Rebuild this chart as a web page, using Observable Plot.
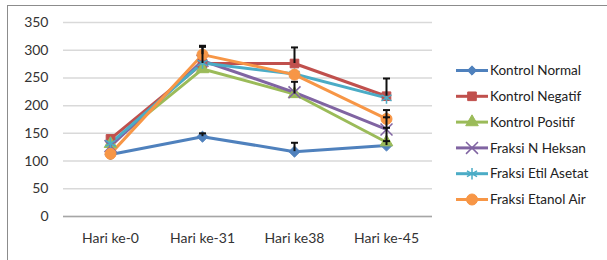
<!DOCTYPE html>
<html><head><meta charset="utf-8">
<script src="https://cdn.jsdelivr.net/npm/d3@7"></script>
<script src="https://cdn.jsdelivr.net/npm/@observablehq/plot@0.6"></script>
<style>
body{margin:0;background:#fff;}
#wrap{position:relative;width:607px;height:260px;overflow:hidden;font-family:Lato,"Open Sans",sans-serif;}
#frame{position:absolute;left:7px;top:5px;width:700px;height:400px;border-left:1.5px solid #8c8c8c;border-top:1.5px solid #8c8c8c;}
#chart{position:absolute;left:0;top:0;}
#legend{position:absolute;left:0;top:0;}
</style></head>
<body><div id="wrap"><div id="frame"></div><div id="chart"></div><svg id="legend" width="607" height="260"></svg></div>
<script>
const categories = ["Hari ke-0", "Hari ke-31", "Hari ke38", "Hari ke-45"];
const yTicks = [0, 50, 100, 150, 200, 250, 300, 350];
const seriesNames = ["Kontrol Normal", "Kontrol Negatif", "Kontrol Positif", "Fraksi N Heksan", "Fraksi Etil Asetat", "Fraksi Etanol Air"];
const colors = ["#4F81BD", "#C0504D", "#9BBB59", "#8064A2", "#4BACC6", "#F79646"];
const symbols = ["diamond2", "square2", "triangle2", "times", "asterisk", "circle"];
const kontrolNormal = [112, 144, 117, 128];
const kontrolNegatif = [140, 276, 276, 217];
const kontrolPositif = [131, 266, 221, 134];
const fraksiNHeksan = [127, 281, 224, 157];
const fraksiEtilAsetat = [132, 277, 257, 214];
const fraksiEtanolAir = [113, 292, 256, 176];
const errNormal = [0, 6, 16, 8];
const errNegatif = [0, 30, 29, 32];
const errPositif = [0, 0, 22, 26];
const errNHeksan = [0, 0, 0, 22];
const errEtilAsetat = [0, 0, 0, 0];
const errEtanolAir = [0, 16, 0, 16];

const values = [kontrolNormal, kontrolNegatif, kontrolPositif, fraksiNHeksan, fraksiEtilAsetat, fraksiEtanolAir];
const errs = [errNormal, errNegatif, errPositif, errNHeksan, errEtilAsetat, errEtanolAir];
const data = [];
seriesNames.forEach((s, i) => categories.forEach((c, j) => data.push({series: s, cat: c, v: values[i][j], e: errs[i][j], idx: i})));
const errData = data.filter(d => d.e > 0);

const sizeOf = {diamond2: 5, square2: 5.5, triangle2: 6, times: 5.5, asterisk: 5.5, circle: 5.5};
const capSymbol = {draw(ctx, size) { const w = 3.5; ctx.moveTo(-w, 0); ctx.lineTo(w, 0); }};

const marks = [
  Plot.gridY(yTicks, {stroke: "#d9d9d9", strokeOpacity: 1, strokeWidth: 1.5}),
  Plot.axisY(yTicks, {tickSize: 0, tickPadding: 15, fontSize: 14, fill: "#333", line: true, stroke: "#a6a6a6", strokeWidth: 1.5}),
  Plot.axisX({tickSize: 0, tickPadding: 17, fontSize: 14, fill: "#333"}),
  Plot.ruleY([0], {stroke: "#a6a6a6", strokeWidth: 1.5}),
];
seriesNames.forEach((s, i) => {
  const d = data.filter(r => r.series === s);
  marks.push(Plot.line(d, {x: "cat", y: "v", stroke: colors[i], strokeWidth: 3}));
});
seriesNames.forEach((s, i) => {
  const d = data.filter(r => r.series === s);
  const sym = symbols[i];
  const stroked = sym === "times" || sym === "asterisk";
  marks.push(Plot.dot(d, {x: "cat", y: "v", symbol: sym, r: sizeOf[sym],
    fill: stroked ? "none" : colors[i], stroke: colors[i], strokeWidth: stroked ? 1.5 : 1}));
});
marks.push(Plot.ruleX(errData, {x: "cat", y1: "v", y2: d => d.v + d.e, stroke: "#111", strokeWidth: 2}));
marks.push(Plot.dot(errData, {x: "cat", y: d => d.v + d.e, symbol: capSymbol, r: 3, stroke: "#111", strokeWidth: 2}));

const chart = Plot.plot({
  width: 607, height: 260,
  marginLeft: 63, marginRight: 175, marginTop: 22, marginBottom: 44,
  style: {background: "transparent", fontFamily: "Lato, 'Open Sans', sans-serif"},
  x: {type: "point", domain: categories, padding: 0.5, label: null},
  y: {domain: [0, 350], label: null},
  marks
});
document.getElementById("chart").appendChild(chart);

// legend
const lg = d3.select("#legend");
const symScale = {diamond2: d3.symbolDiamond2, square2: d3.symbolSquare2, triangle2: d3.symbolTriangle2, times: d3.symbolTimes, asterisk: d3.symbolAsterisk, circle: d3.symbolCircle};
seriesNames.forEach((s, i) => {
  const y = 70.5 + i * 25.8;
  const g = lg.append("g");
  g.append("line").attr("x1", 456).attr("x2", 488).attr("y1", y).attr("y2", y).attr("stroke", colors[i]).attr("stroke-width", 3);
  const sym = symbols[i];
  const stroked = sym === "times" || sym === "asterisk";
  const r = sizeOf[sym];
  g.append("path").attr("transform", `translate(472,${y})`)
    .attr("d", d3.symbol(symScale[sym], Math.PI * r * r * (sym === "diamond2" ? 0.7 : 1))())
    .attr("fill", stroked ? "none" : colors[i]).attr("stroke", colors[i]).attr("stroke-width", stroked ? 1.5 : 1);
  g.append("text").attr("x", 490).attr("y", y).attr("dy", "0.35em").attr("font-size", 13.5).attr("fill", "#222")
    .attr("font-family", "Lato, 'Open Sans', sans-serif").text(s);
});
</script></body></html>
